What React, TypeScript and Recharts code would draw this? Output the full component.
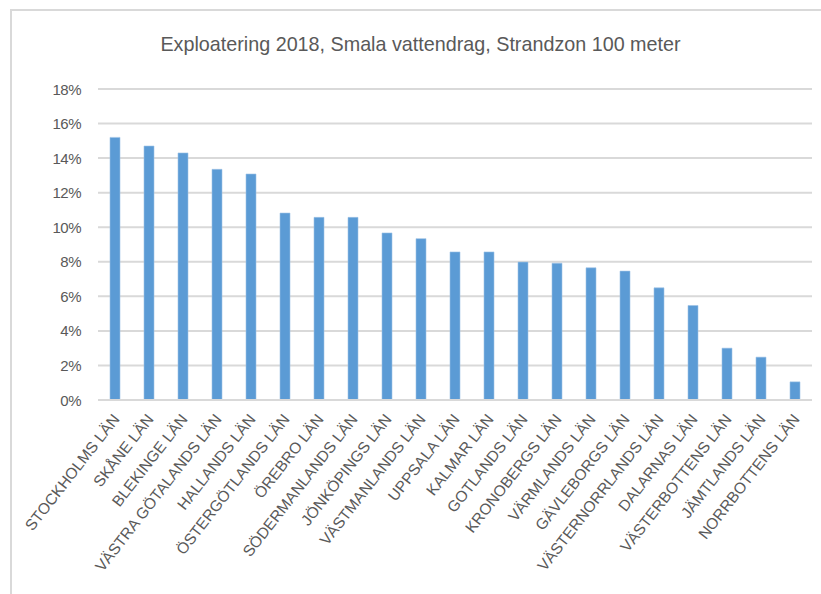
import React from 'react';
import { BarChart, Bar, XAxis, YAxis, CartesianGrid } from 'recharts';

const counties = [
  'STOCKHOLMS LÄN', 'SKÅNE LÄN', 'BLEKINGE LÄN', 'VÄSTRA GÖTALANDS LÄN', 'HALLANDS LÄN',
  'ÖSTERGÖTLANDS LÄN', 'ÖREBRO LÄN', 'SÖDERMANLANDS LÄN', 'JÖNKÖPINGS LÄN', 'VÄSTMANLANDS LÄN',
  'UPPSALA LÄN', 'KALMAR LÄN', 'GOTLANDS LÄN', 'KRONOBERGS LÄN', 'VÄRMLANDS LÄN',
  'GÄVLEBORGS LÄN', 'VÄSTERNORRLANDS LÄN', 'DALARNAS LÄN', 'VÄSTERBOTTENS LÄN', 'JÄMTLANDS LÄN',
  'NORRBOTTENS LÄN',
];

const exploitation = [
  0.152, 0.147, 0.143, 0.1335, 0.1308, 0.1082, 0.1057, 0.1057, 0.0967, 0.0934,
  0.0857, 0.0857, 0.0798, 0.0792, 0.0765, 0.0746, 0.0649, 0.0547, 0.030, 0.0248,
  0.0105,
];

const yTicks = [0, 0.02, 0.04, 0.06, 0.08, 0.1, 0.12, 0.14, 0.16, 0.18];

const data = counties.map((name, i) => ({ name, value: exploitation[i] }));

const FONT = '"Liberation Sans", Arial, sans-serif';
const GREY = '#595959';

const XTick = (props: any) => {
  const { x, y, payload } = props;
  return (
    <g transform={`translate(${x + 1}, ${y}) rotate(-52)`}>
      <text
        x={0}
        y={0}
        textAnchor="end"
        dominantBaseline="central"
        fontSize={15.5}
        fontFamily={FONT}
        fill={GREY}
      >
        {payload.value}
      </text>
    </g>
  );
};

const YTick = (props: any) => {
  const { x, y, payload } = props;
  return (
    <text x={x} y={y} textAnchor="end" dominantBaseline="central" fontSize={15} fontFamily={FONT} fill={GREY} letterSpacing={-0.5}>
      {`${Math.round(payload.value * 100)}%`}
    </text>
  );
};

const App: React.FC = () => {
  return (
    <div style={{ position: 'absolute', left: 0, top: 0, width: 821, height: 594, overflow: 'hidden', background: '#fff' }}>
      <div
        style={{
          position: 'absolute',
          left: 10,
          top: 9,
          width: 840,
          height: 620,
          border: '2px solid #d9d9d9',
        }}
      />
      <div
        style={{
          position: 'absolute',
          left: 0,
          top: 32,
          width: 841,
          textAlign: 'center',
          fontFamily: FONT,
          fontSize: 21,
          color: GREY,
          transform: 'scaleX(0.94)',
        }}
      >
        Exploatering 2018, Smala vattendrag, Strandzon 100 meter
      </div>
      <div style={{ position: 'absolute', left: 0, top: 0 }}>
        <BarChart
          width={821}
          height={594}
          data={data}
          margin={{ top: 89, right: 9, bottom: 0, left: 18 }}
        >
          <CartesianGrid vertical={false} stroke="#d9d9d9" strokeWidth={2} />
          <XAxis
            dataKey="name"
            interval={0}
            tickLine={false}
            axisLine={{ stroke: '#d9d9d9', strokeWidth: 2 }}
            tick={<XTick />}
            tickMargin={10}
            height={194}
          />
          <YAxis
            width={80}
            domain={[0, 0.18]}
            ticks={yTicks}
            interval={0}
            axisLine={false}
            tickLine={false}
            tick={<YTick />}
            tickMargin={11}
          />
          <Bar dataKey="value" fill="#5b9bd5" stroke="#9dc3e6" strokeWidth={0.6} barSize={10} isAnimationActive={false} />
        </BarChart>
      </div>
    </div>
  );
};

export default App;
